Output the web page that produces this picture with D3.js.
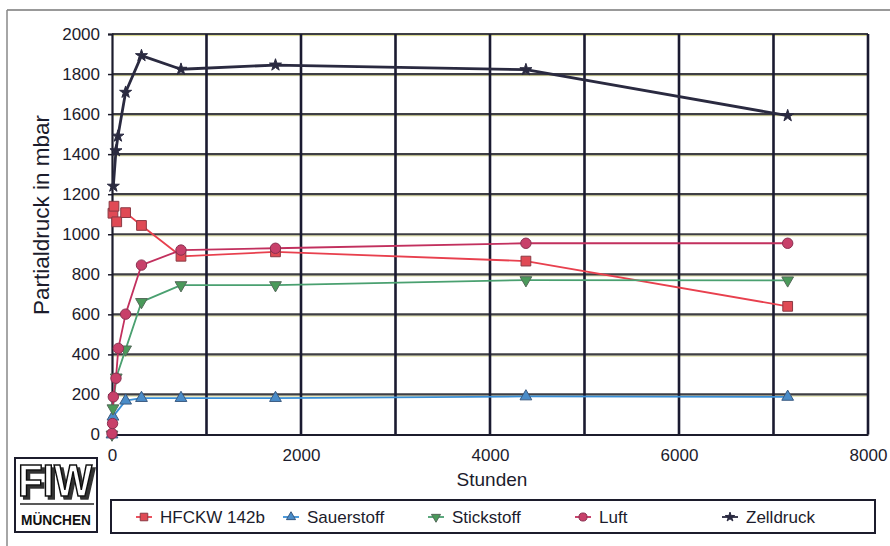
<!DOCTYPE html>
<html><head><meta charset="utf-8">
<script src="https://cdn.jsdelivr.net/npm/d3@7"></script>
<style>
html,body{margin:0;padding:0;background:#fff;}
svg{display:block;font-family:"Liberation Sans",Arial,sans-serif;}
</style></head>
<body>
<svg id="c" width="890" height="546"></svg>
<script>
// ---- data (hours, mbar) ----
const yTicks = [0,200,400,600,800,1000,1200,1400,1600,1800,2000];
const xTickLabels = [0,2000,4000,6000,8000];
const xGrid = [1000,2000,3000,4000,5000,6000,7000,8000];

const hfckwT = [10, 21, 50, 144, 312, 730, 1730, 4380, 7150];
const hfckwV = [1105, 1140, 1062, 1108, 1044, 890, 912, 866, 640];

const sauerT = [0, 10, 144, 312, 730, 1730, 4380, 7150];
const sauerV = [0, 89, 169, 182, 182, 182, 190, 188];

const stickT = [0, 10, 45, 144, 312, 730, 1730, 4380, 7150];
const stickV = [0, 131, 285, 425, 662, 746, 746, 771, 770];

const luftT = [0, 6, 14, 42, 67, 144, 312, 730, 1730, 4380, 7150];
const luftV = [5, 55, 188, 281, 430, 601, 846, 921, 930, 955, 955];

const zellT = [14, 42, 63, 144, 312, 730, 1730, 4380, 7150];
const zellV = [1240, 1417, 1490, 1709, 1892, 1824, 1845, 1822, 1592];

const seriesNames = ["HFCKW 142b","Sauerstoff","Stickstoff","Luft","Zelldruck"];

// ---- setup ----
const svg = d3.select("#c");
const x = d3.scaleLinear().domain([0,8000]).range([112,868]);
const y = d3.scaleLinear().domain([0,2000]).range([434.5,34]);
const ink = "#1c1c2c";

const defs = svg.append("defs");
const f = defs.append("filter").attr("id","shadow").attr("x","-20%").attr("y","-20%").attr("width","140%").attr("height","140%");
f.append("feOffset").attr("in","SourceAlpha").attr("dx",3).attr("dy",3).attr("result","off");
f.append("feFlood").attr("flood-color","#333").attr("result","col");
f.append("feComposite").attr("in","col").attr("in2","off").attr("operator","in").attr("result","sh");
const fm = f.append("feMerge");
fm.append("feMergeNode").attr("in","sh");
fm.append("feMergeNode").attr("in","SourceGraphic");

// outer frame
svg.append("line").attr("x1",7).attr("x2",890).attr("y1",10).attr("y2",10).attr("stroke","#777").attr("stroke-width",1.5);
svg.append("line").attr("x1",7).attr("x2",7).attr("y1",10).attr("y2",546).attr("stroke","#888").attr("stroke-width",1.5);

// horizontal gridlines
const g = svg.append("g");
g.selectAll(".hy").data(yTicks.filter(d=>d>0)).join("line")
  .attr("x1",x(0)).attr("x2",x(8000)).attr("y1",d=>y(d)+1.6).attr("y2",d=>y(d)+1.6)
  .attr("stroke","#d9d98c").attr("stroke-width",1);
g.selectAll(".hg").data(yTicks.filter(d=>d>0)).join("line")
  .attr("x1",x(0)).attr("x2",x(8000)).attr("y1",d=>y(d)).attr("y2",d=>y(d))
  .attr("stroke","#3e3e44").attr("stroke-width",2.2);
// vertical gridlines
g.selectAll(".vg").data(xGrid).join("line")
  .attr("x1",d=>x(d)).attr("x2",d=>x(d)).attr("y1",y(2000)).attr("y2",y(0))
  .attr("stroke","#1a1a30").attr("stroke-width",2.6);

// axes
const yAxis = d3.axisLeft(y).tickValues(yTicks).tickSize(4).tickPadding(8).tickFormat(d3.format("d"));
const ya = svg.append("g").attr("transform",`translate(${x(0)},0)`).call(yAxis);
ya.select(".domain").attr("stroke",ink).attr("stroke-width",2.2);
ya.selectAll(".tick line").attr("stroke",ink).attr("stroke-width",1.5);
ya.selectAll("text").attr("font-size",17).attr("fill",ink).attr("font-family","Liberation Sans, Arial, sans-serif");

const xAxis = d3.axisBottom(x).tickValues(xTickLabels).tickSize(0).tickPadding(14).tickFormat(d3.format("d"));
const xa = svg.append("g").attr("transform",`translate(0,${y(0)})`).call(xAxis);
xa.select(".domain").attr("stroke",ink).attr("stroke-width",2.2);
xa.selectAll("text").attr("font-size",17).attr("fill",ink).attr("font-family","Liberation Sans, Arial, sans-serif");

// axis titles
svg.append("text").attr("x",492).attr("y",486).attr("text-anchor","middle")
  .attr("font-size",19).attr("fill",ink).text("Stunden");
svg.append("text").attr("transform","translate(49,215) rotate(-90)").attr("text-anchor","middle")
  .attr("font-size",22.5).attr("fill",ink).text("Partialdruck in mbar");

// series
const series = [
  {name:seriesNames[0], t:hfckwT, v:hfckwV, line:"#e8404e", fill:"#e04a55", stroke:"#8a3a44", sym:d3.symbolSquare, size:95, sw:1.8},
  {name:seriesNames[1], t:sauerT, v:sauerV, line:"#3a8fd6", fill:"#4a8cc8", stroke:"#3a5a80", sym:d3.symbolTriangle, size:60, sw:1.8},
  {name:seriesNames[2], t:stickT, v:stickV, line:"#4aa070", fill:"#4a9a5a", stroke:"#556a5a", sym:d3.symbolTriangle, size:60, sw:1.8, rot:180},
  {name:seriesNames[3], t:luftT, v:luftV, line:"#c2305e", fill:"#c8406a", stroke:"#8a3050", sym:d3.symbolCircle, size:85, sw:1.8},
  {name:seriesNames[4], t:zellT, v:zellV, line:"#2a2a40", fill:"#2a2a40", stroke:"#2a2a40", sym:d3.symbolStar, size:45, sw:2.8}
];
const lineGen = d3.line().x(d=>x(d[0])).y(d=>y(d[1]));
series.forEach(s=>{
  const pts = s.t.map((t,i)=>[t,s.v[i]]);
  svg.append("path").datum(pts).attr("d",lineGen).attr("fill","none")
    .attr("stroke",s.line).attr("stroke-width",s.sw).attr("stroke-linejoin","round");
});
series.forEach(s=>{
  const pts = s.t.map((t,i)=>[t,s.v[i]]);
  svg.append("g").selectAll("path").data(pts).join("path")
    .attr("d",d3.symbol().type(s.sym).size(s.size))
    .attr("transform",d=>`translate(${x(d[0])},${y(d[1])})` + (s.rot?` rotate(${s.rot})`:""))
    .attr("fill",s.fill).attr("stroke",s.stroke).attr("stroke-width",1);
});

// legend
svg.append("rect").attr("x",111).attr("y",500).attr("width",764).attr("height",33)
  .attr("fill","#fff").attr("stroke",ink).attr("stroke-width",2);
const legX = [144,291,436,583,730];
const leg = svg.append("g");
series.forEach((s,i)=>{
  const lx = legX[i], ly = 517;
  leg.append("line").attr("x1",lx-8).attr("x2",lx+8).attr("y1",ly).attr("y2",ly).attr("stroke",s.line).attr("stroke-width",1.8);
  leg.append("path").attr("d",d3.symbol().type(s.sym).size(s.size*0.6))
    .attr("transform",`translate(${lx},${ly})`+(s.rot?` rotate(${s.rot})`:""))
    .attr("fill",s.fill).attr("stroke",s.stroke).attr("stroke-width",1);
  leg.append("text").attr("x",lx+16).attr("y",ly+6).attr("font-size",17).attr("fill",ink).text(s.name);
});

// logo
const logo = svg.append("g");
logo.append("rect").attr("x",15).attr("y",458).attr("width",82).attr("height",74)
  .attr("fill","#fff").attr("stroke",ink).attr("stroke-width",2);
logo.append("text").attr("x",55).attr("y",496).attr("text-anchor","middle")
  .attr("font-size",44).attr("font-weight","bold").attr("fill","#fff").attr("stroke","#111").attr("stroke-width",1.6)
  .attr("filter","url(#shadow)")
  .attr("textLength",74).attr("lengthAdjust","spacingAndGlyphs").text("FIW");
logo.append("line").attr("x1",20).attr("x2",94).attr("y1",504).attr("y2",504).attr("stroke","#222").attr("stroke-width",1.5);
logo.append("text").attr("x",56).attr("y",525).attr("text-anchor","middle")
  .attr("font-size",14.5).attr("font-weight","bold").attr("fill","#111")
  .attr("textLength",70).attr("lengthAdjust","spacingAndGlyphs").text("MÜNCHEN");
</script>
</body></html>
